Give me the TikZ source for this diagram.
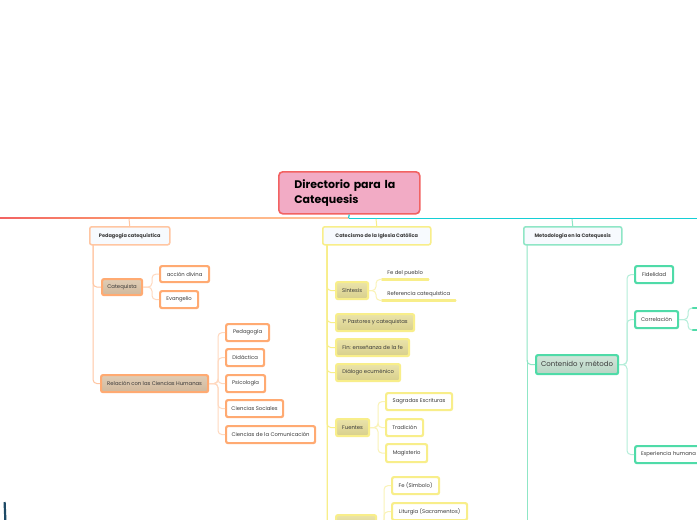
\documentclass[tikz,border=0pt]{standalone}
\usepackage{fontspec}
\setmainfont{Poppins}
\definecolor{redL}{HTML}{F26262}
\definecolor{pinkF}{HTML}{F2ABC5}
\definecolor{orB}{HTML}{FFAA72}
\definecolor{orL}{HTML}{FFC6A2}
\definecolor{orC}{HTML}{FFD9C0}
\definecolor{tanT}{HTML}{E0CDB6}
\definecolor{tanB}{HTML}{D0B89C}
\definecolor{yeB}{HTML}{F8EE8A}
\definecolor{yeC}{HTML}{FAF3B8}
\definecolor{khT}{HTML}{EAE3AA}
\definecolor{khB}{HTML}{D8CF8C}
\definecolor{teB}{HTML}{4FDBA8}
\definecolor{teL}{HTML}{8FE6C6}
\definecolor{teC}{HTML}{B5EEDA}
\definecolor{gnT}{HTML}{D2E6DA}
\definecolor{gnB}{HTML}{B8D4C4}
\definecolor{cyL}{HTML}{14CFD6}
\definecolor{boxF}{HTML}{F7FAFE}
\definecolor{txt}{HTML}{3A3A3A}
\begin{document}
\begin{tikzpicture}[x=1pt,y=-1pt,
  base/.style={anchor=north west, rounded corners=2, inner sep=0pt, text=txt, font=\fontsize{5.3}{6}\selectfont},
  lone/.style={base, draw=#1, line width=1.5pt, fill=boxF, font=\bfseries\fontsize{5}{6}\selectfont},
  mid/.style={base, draw=#1, line width=2.2pt},
  kid/.style={base, draw=#1, line width=2.2pt, fill=white},
  tan/.style={mid=orB, top color=tanT, bottom color=tanB},
  kha/.style={mid=yeB, top color=khT, bottom color=khB},
  grn/.style={mid=teB, top color=gnT, bottom color=gnB, font=\fontsize{7}{8}\selectfont},
  und/.style={anchor=north west, inner sep=0pt, text=txt, font=\fontsize{5.3}{6}\selectfont},
  con/.style={rounded corners=4, line width=1pt}
]
\useasboundingbox (0,0) rectangle (697,520);
\fill[white] (0,0) rectangle (697,520);
\clip (0,0) rectangle (697,520);

% root
\node[anchor=north west, draw=redL, line width=1.6pt, fill=pinkF, rounded corners=4,
  minimum width=141, minimum height=42, text width=110, inner xsep=15.5pt, inner ysep=0pt,
  align=left, font=\bfseries\fontsize{11}{15}\selectfont, text=black] (root) at (278,171)
  {Directorio para la\\Catequesis};

% main lines
\shade[left color=redL, right color=orL, middle color=orB] (0,217.5) rectangle (348.5,218.8);
\draw[cyL, line width=1.2pt] (348.5,218.15) -- (697,218.15);
\draw[cyL, line width=1.2pt] (root.south) -- (348.5,218.15);

% level 1
\node[lone=orL, minimum width=80, minimum height=18] (ped) at (89,226) {Pedagogía catequística};
\node[lone=yeB, minimum width=108, minimum height=18] (cat) at (322,226) {Catecismo de la Iglesia Católica};
\node[lone=teL, minimum width=98, minimum height=18] (met) at (523,226) {Metodología en la Catequesis};
\draw[orL, line width=1pt] (129,218.8) -- (ped.north);
\draw[yeB, line width=1pt] (376,218.8) -- (cat.north);
\draw[teL, line width=1pt] (572,218.8) -- (met.north);

% ---------- Pedagogía ----------
\node[tan, minimum width=40, minimum height=16] (cq) at (101,278) {Catequista};
\node[tan, minimum width=107, minimum height=17] (rel) at (100,374) {Relación con las Ciencias Humanas};
\node[kid=orB, minimum width=49, minimum height=16] (acc) at (159,265) {acción divina};
\node[kid=orB, minimum width=38, minimum height=17] (ev) at (159,290) {Evangelio};
\node[kid=orB, minimum width=43, minimum height=17] (pg) at (225,323) {Pedagogía};
\node[kid=orB, minimum width=38, minimum height=17] (di) at (225,348) {Didáctica};
\node[kid=orB, minimum width=39, minimum height=17] (ps) at (225,374) {Psicología};
\node[kid=orB, minimum width=57, minimum height=17] (cs) at (225,399) {Ciencias Sociales};
\node[kid=orB, minimum width=89, minimum height=17] (cc) at (225,425) {Ciencias de la Comunicación};

\foreach \c in {cq,rel}
  \draw[con, orL] (93,244) -- (93,244 |- \c.west) -- (\c.west);
\foreach \c in {acc,ev}
  \draw[con, orC] (cq.east) -- (152,0 |- cq.east) -- (152,0 |- \c.west) -- (\c.west);
\foreach \c in {pg,di,ps,cs,cc}
  \draw[con, orC] (rel.east) -- (218,0 |- rel.east) -- (218,0 |- \c.west) -- (\c.west);

% ---------- Catecismo ----------
\node[kha, minimum width=32, minimum height=17] (si) at (335,281) {Síntesis};
\node[kha, minimum width=78, minimum height=17] (pa) at (335,313) {1° Pastores y catequistas};
\node[kha, minimum width=73, minimum height=17] (fi) at (335,338) {Fin: enseñanza de la fe};
\node[kha, minimum width=64, minimum height=17] (dl) at (335,363) {Diálogo ecuménico};
\node[kha, minimum width=33, minimum height=17] (fu) at (335,418) {Fuentes};
\node[kha, minimum width=40, minimum height=17] (bt) at (335,514) {};

\foreach \c in {si,pa,fi,dl,fu,bt}
  \draw[con, yeB] (327,244) -- (327,244 |- \c.west) -- (\c.west);
\draw[yeB, line width=1pt] (327,300) -- (327,520);

\node[und, minimum width=46, minimum height=12] (fp) at (382,267) {Fe del pueblo};
\node[und, minimum width=73, minimum height=12] (rc) at (382,288) {Referencia catequística};
\draw[yeB, line width=2.2pt, line cap=round] (fp.south west) -- (fp.south east);
\draw[yeB, line width=2.2pt, line cap=round] (rc.south west) -- (rc.south east);
\foreach \c in {fp,rc}
  \draw[con, yeC] (si.east) -- (376,0 |- si.east) -- (376,0 |- \c.south west) -- (\c.south west);

\node[kid=yeB, minimum width=66, minimum height=17] (sa) at (385,392) {Sagradas Escrituras};
\node[kid=yeB, minimum width=37, minimum height=17] (tr) at (385,418) {Tradición};
\node[kid=yeB, minimum width=41, minimum height=18] (ma) at (385,443) {Magisterio};
\foreach \c in {sa,tr,ma}
  \draw[con, yeC] (fu.east) -- (378,0 |- fu.east) -- (378,0 |- \c.west) -- (\c.west);

\node[kid=yeB, minimum width=47, minimum height=17] (fs) at (391,476) {Fe (Símbolo)};
\node[kid=yeB, minimum width=75, minimum height=17] (li) at (391,502) {Liturgia (Sacramentos)};
\foreach \c in {fs,li}
  \draw[con, yeC] (bt.east) -- (384,0 |- bt.east) -- (384,0 |- \c.west) -- (\c.west);

% ---------- Metodología ----------
\node[grn, minimum width=82, minimum height=19] (co) at (535,354) {Contenido y método};
\draw[con, teL] (527,244) -- (527,244 |- co.west) -- (co.west);
\draw[teL, line width=1pt] (527,360) -- (527,520);

\node[kid=teB, minimum width=38, minimum height=17] (fd) at (634,265) {Fidelidad};
\node[kid=teB, minimum width=43, minimum height=17] (cr) at (634,310) {Correlación};
\node[kid=teB, minimum width=80, minimum height=17, text width=68, align=left, inner xsep=5pt] (ex) at (634,445) {Experiencia humana};
\foreach \c in {fd,cr,ex}
  \draw[con, teC] (co.east) -- (627,0 |- co.east) -- (627,0 |- \c.west) -- (\c.west);

\coordinate (ca) at (693,308);
\coordinate (cb) at (693,330);
\foreach \c in {ca,cb}
  \draw[con, teC] (cr.east) -- (688,0 |- cr.east) -- (688,0 |- \c) -- (\c);
\draw[teB, line width=2.4pt, line cap=round] (ca) -- (699,308);
\draw[teB, line width=2.4pt, line cap=round] (cb) -- (699,330);

% bottom-left stroke
\draw[line width=2.2pt, color={rgb,255:red,30;green,74;blue,102}] (4.6,502) -- (5.4,521);
\end{tikzpicture}
\end{document}
